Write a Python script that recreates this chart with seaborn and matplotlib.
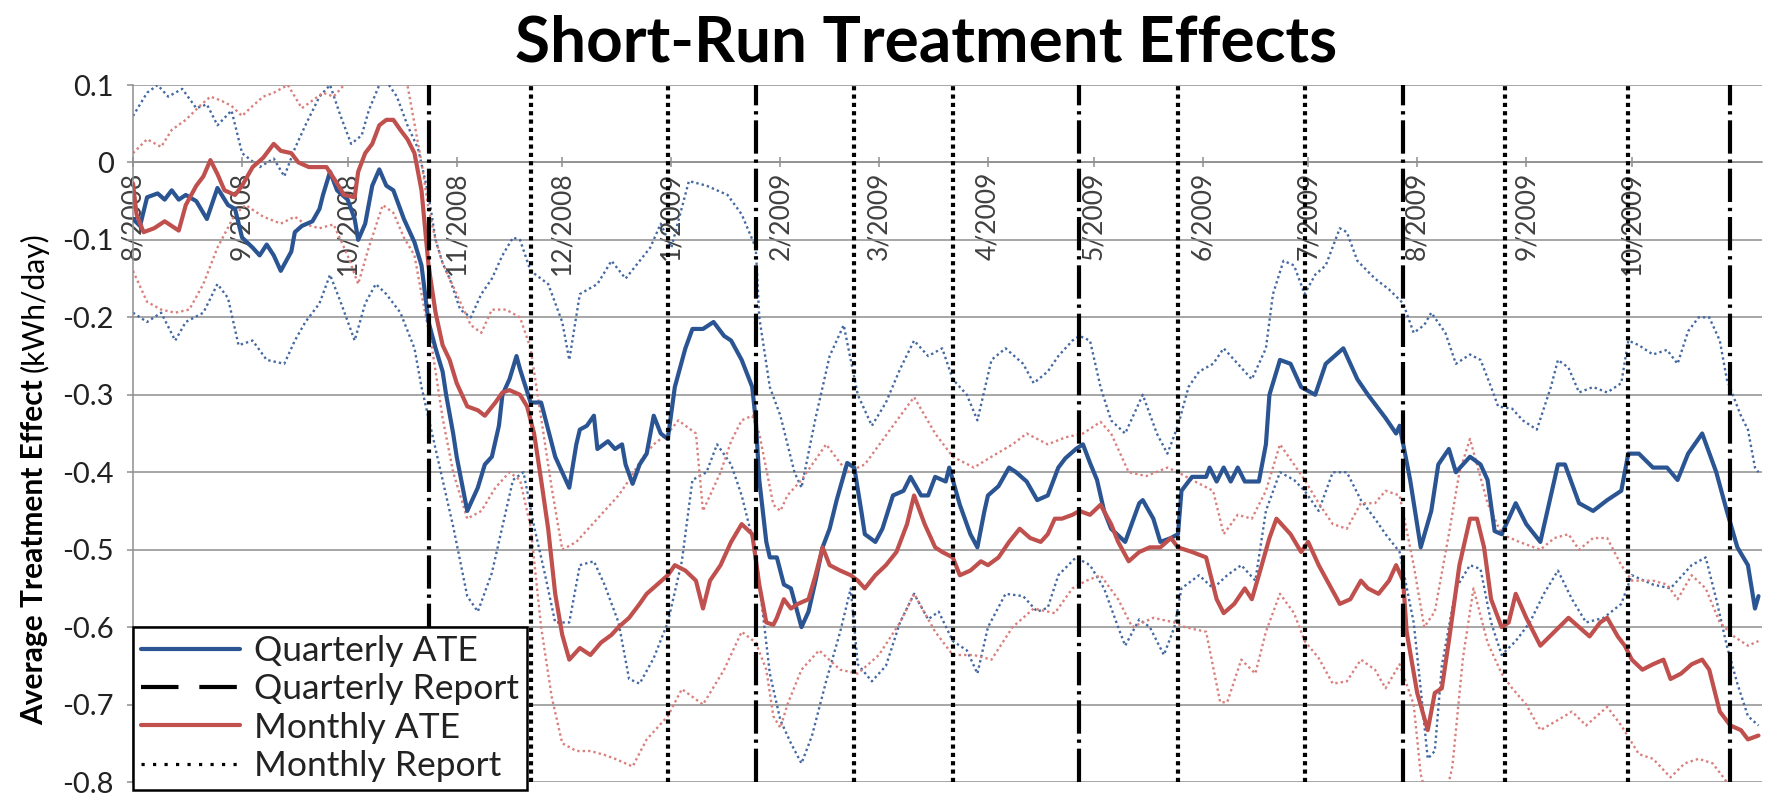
"""
Short-run treatment effects: quarterly vs monthly report ATE with bands.
"""

import pandas as pd
import matplotlib
matplotlib.use("Agg")
import matplotlib.pyplot as plt
from matplotlib.lines import Line2D
import seaborn as sns

sns.set_theme(style="white")
plt.rcParams["font.family"] = ["Lato", "DejaVu Sans"]

START = pd.Timestamp("2008-08-01")   # day 0 of the day offsets below
END_DAY = 463

BLUE, RED = "#2B5592", "#C0504D"
BLUE_DOT, RED_DOT = "#4469A2", "#D9807C"
GRID = "#8E8E8E"

# ── data (day offset from 1 Aug 2008, ATE in kWh/day) ────────────────────────

qate_days = [0, 2, 4, 7, 9, 11, 13, 15, 18, 21, 24, 27, 29, 31, 34, 36, 38, 40, 42, 45,
             46, 48, 51, 53, 54, 56, 58, 61, 63, 64, 66, 68, 70, 72, 74, 77, 80, 82, 84, 86,
             88, 89, 91, 92, 95, 98, 100, 102, 104, 105, 107, 109, 110, 113, 116, 118, 120, 124, 126, 127,
             129, 131, 132, 135, 137, 139, 140, 142, 144, 146, 148, 150, 152, 154, 157, 159, 162, 165, 168, 170,
             173, 176, 177, 178, 180, 181, 183, 185, 187, 190, 192, 194, 196, 198, 200, 203, 205, 207, 208, 211,
             213, 216, 219, 221, 224, 226, 228, 231, 232, 235, 238, 240, 242, 243, 246, 249, 251, 254, 257, 260,
             263, 265, 268, 270, 272, 274, 276, 278, 282, 286, 287, 290, 292, 295, 297, 298, 301, 305, 306, 308,
             310, 312, 314, 316, 320, 322, 323, 326, 329, 332, 336, 339, 344, 348, 351, 356, 359, 360, 363, 366,
             369, 371, 374, 376, 380, 383, 385, 387, 389, 393, 396, 400, 403, 405, 407, 411, 415, 419, 423, 425,
             428, 432, 436, 439, 442, 446, 450, 453, 456, 459, 461, 462]
qate_vals = [-0.073, -0.082, -0.045, -0.040, -0.048, -0.036, -0.048, -0.042, -0.050, -0.073,
             -0.033, -0.055, -0.060, -0.097, -0.110, -0.120, -0.106, -0.120, -0.140, -0.115,
             -0.090, -0.082, -0.076, -0.060, -0.042, -0.012, -0.036, -0.048, -0.073, -0.100,
             -0.079, -0.030, -0.009, -0.030, -0.036, -0.073, -0.103, -0.133, -0.206, -0.240,
             -0.270, -0.300, -0.350, -0.380, -0.450, -0.420, -0.390, -0.380, -0.340, -0.300,
             -0.280, -0.250, -0.267, -0.310, -0.310, -0.345, -0.380, -0.420, -0.364, -0.345,
             -0.340, -0.327, -0.370, -0.360, -0.370, -0.364, -0.390, -0.415, -0.390, -0.376,
             -0.327, -0.350, -0.357, -0.290, -0.240, -0.215, -0.215, -0.206, -0.224, -0.230,
             -0.255, -0.290, -0.333, -0.410, -0.490, -0.510, -0.510, -0.545, -0.550, -0.600,
             -0.580, -0.540, -0.497, -0.473, -0.436, -0.388, -0.394, -0.450, -0.480, -0.490,
             -0.473, -0.430, -0.424, -0.406, -0.430, -0.430, -0.406, -0.412, -0.394, -0.442,
             -0.480, -0.497, -0.450, -0.430, -0.418, -0.394, -0.400, -0.412, -0.436, -0.430,
             -0.394, -0.382, -0.370, -0.364, -0.388, -0.410, -0.450, -0.473, -0.490, -0.440,
             -0.436, -0.460, -0.490, -0.485, -0.480, -0.424, -0.406, -0.406, -0.394, -0.412,
             -0.394, -0.412, -0.394, -0.412, -0.412, -0.364, -0.300, -0.255, -0.260, -0.290,
             -0.300, -0.260, -0.240, -0.280, -0.300, -0.330, -0.350, -0.340, -0.410, -0.497,
             -0.450, -0.390, -0.370, -0.400, -0.380, -0.390, -0.410, -0.476, -0.480, -0.440,
             -0.467, -0.490, -0.430, -0.390, -0.390, -0.440, -0.450, -0.436, -0.424, -0.376,
             -0.376, -0.394, -0.394, -0.410, -0.376, -0.350, -0.400, -0.450, -0.497, -0.520,
             -0.576, -0.560]

mate_days = [0, 1, 3, 6, 9, 11, 13, 15, 18, 20, 22, 24, 26, 29, 31, 34, 37, 40, 42, 45,
             47, 50, 53, 55, 58, 60, 63, 64, 66, 68, 70, 72, 74, 76, 78, 80, 82, 83, 84, 86,
             88, 90, 92, 95, 98, 100, 103, 105, 107, 110, 112, 114, 116, 118, 120, 122, 124, 127, 130, 133,
             136, 138, 141, 144, 146, 149, 152, 154, 157, 160, 162, 164, 167, 170, 173, 176, 178, 180, 182, 183,
             185, 187, 189, 192, 194, 196, 198, 201, 204, 206, 208, 211, 214, 217, 220, 222, 225, 228, 230, 233,
             235, 238, 241, 243, 246, 249, 252, 255, 258, 260, 262, 264, 267, 269, 272, 275, 278, 280, 283, 286,
             289, 292, 295, 297, 301, 305, 308, 310, 313, 316, 318, 320, 323, 325, 329, 332, 334, 337, 340, 343,
             346, 349, 351, 354, 357, 359, 361, 362, 365, 368, 370, 372, 374, 377, 380, 382, 384, 386, 389, 391,
             393, 396, 400, 404, 408, 411, 414, 417, 419, 422, 424, 426, 429, 432, 435, 437, 440, 443, 446, 448,
             451, 454, 457, 459, 462]
mate_vals = [-0.027, -0.067, -0.090, -0.085, -0.076, -0.082, -0.088, -0.055, -0.030, -0.018,
             0.003, -0.015, -0.036, -0.042, -0.030, -0.006, 0.006, 0.024, 0.015, 0.012,
             0.000, -0.006, -0.006, -0.006, -0.027, -0.042, -0.045, -0.012, 0.012, 0.024,
             0.048, 0.055, 0.055, 0.042, 0.030, 0.012, -0.036, -0.085, -0.133, -0.194,
             -0.236, -0.255, -0.285, -0.315, -0.320, -0.327, -0.310, -0.297, -0.294, -0.300,
             -0.315, -0.350, -0.410, -0.473, -0.557, -0.610, -0.642, -0.627, -0.636, -0.620,
             -0.610, -0.600, -0.588, -0.570, -0.557, -0.545, -0.533, -0.520, -0.527, -0.540,
             -0.576, -0.540, -0.520, -0.490, -0.467, -0.480, -0.545, -0.594, -0.597, -0.588,
             -0.564, -0.576, -0.570, -0.564, -0.533, -0.497, -0.520, -0.527, -0.533, -0.540,
             -0.550, -0.533, -0.520, -0.503, -0.467, -0.430, -0.467, -0.497, -0.503, -0.510,
             -0.533, -0.527, -0.515, -0.520, -0.510, -0.490, -0.473, -0.485, -0.490, -0.480,
             -0.460, -0.460, -0.455, -0.450, -0.455, -0.442, -0.467, -0.490, -0.515, -0.503,
             -0.497, -0.497, -0.485, -0.497, -0.503, -0.510, -0.564, -0.582, -0.570, -0.550,
             -0.564, -0.533, -0.485, -0.460, -0.480, -0.503, -0.490, -0.520, -0.545, -0.570,
             -0.564, -0.540, -0.550, -0.557, -0.540, -0.520, -0.540, -0.606, -0.685, -0.733,
             -0.685, -0.679, -0.618, -0.520, -0.460, -0.460, -0.497, -0.564, -0.600, -0.594,
             -0.557, -0.588, -0.624, -0.606, -0.588, -0.600, -0.612, -0.594, -0.588, -0.612,
             -0.624, -0.642, -0.655, -0.648, -0.642, -0.667, -0.660, -0.648, -0.642, -0.655,
             -0.709, -0.727, -0.733, -0.745, -0.740]

# confidence bands (dotted)
qhi_days = [0, 4, 7, 10, 14, 18, 21, 24, 28, 31, 36, 40, 43, 46, 49, 53, 56, 59, 62, 65,
            67, 70, 72, 75, 78, 81, 84, 86, 88, 90, 93, 96, 99, 102, 105, 108, 110, 113, 118, 122,
            124, 127, 132, 136, 140, 147, 150, 153, 158, 163, 169, 173, 177, 178, 181, 184, 188, 190, 194, 198,
            202, 206, 210, 214, 218, 222, 226, 230, 233, 237, 240, 244, 248, 253, 256, 260, 263, 267, 269, 272,
            275, 278, 282, 287, 291, 294, 297, 300, 303, 307, 310, 314, 318, 322, 324, 327, 330, 333, 336, 339,
            343, 345, 348, 353, 357, 361, 364, 367, 369, 373, 376, 380, 383, 386, 388, 392, 395, 399, 403, 405,
            408, 411, 415, 419, 423, 425, 428, 432, 436, 439, 442, 445, 448, 451, 453, 457, 459, 461, 462]
qhi_vals = [0.060, 0.090, 0.100, 0.085, 0.095, 0.070, 0.075, 0.048, 0.067, 0.012,
            -0.006, 0.005, -0.018, 0.018, 0.048, 0.085, 0.100, 0.060, 0.024, 0.035,
            0.067, 0.100, 0.105, 0.085, 0.048, 0.018, -0.042, -0.100, -0.130, -0.150,
            -0.190, -0.200, -0.170, -0.150, -0.120, -0.097, -0.100, -0.140, -0.157, -0.206,
            -0.255, -0.170, -0.157, -0.127, -0.150, -0.110, -0.079, -0.110, -0.024, -0.030,
            -0.042, -0.067, -0.110, -0.200, -0.290, -0.327, -0.400, -0.420, -0.330, -0.250,
            -0.210, -0.300, -0.340, -0.310, -0.267, -0.230, -0.250, -0.240, -0.280, -0.300,
            -0.333, -0.255, -0.240, -0.260, -0.285, -0.270, -0.250, -0.230, -0.224, -0.230,
            -0.290, -0.333, -0.350, -0.300, -0.350, -0.376, -0.340, -0.290, -0.270, -0.260,
            -0.240, -0.260, -0.280, -0.240, -0.170, -0.127, -0.133, -0.170, -0.145, -0.133,
            -0.085, -0.090, -0.127, -0.150, -0.164, -0.182, -0.220, -0.210, -0.194, -0.220,
            -0.260, -0.248, -0.255, -0.290, -0.315, -0.318, -0.333, -0.345, -0.290, -0.255,
            -0.265, -0.297, -0.290, -0.297, -0.285, -0.230, -0.236, -0.248, -0.242, -0.260,
            -0.218, -0.200, -0.200, -0.230, -0.280, -0.327, -0.345, -0.394, -0.400]

qlo_days = [0, 4, 8, 12, 15, 20, 24, 27, 30, 34, 38, 43, 46, 49, 53, 56, 59, 63, 66, 69,
            72, 76, 80, 82, 85, 88, 91, 95, 98, 102, 105, 108, 111, 114, 117, 120, 124, 127, 131, 134,
            138, 141, 144, 148, 152, 156, 159, 163, 166, 170, 173, 177, 181, 184, 187, 190, 193, 197, 201, 204,
            206, 210, 214, 218, 222, 226, 229, 233, 237, 240, 243, 248, 253, 257, 260, 263, 268, 272, 276, 280,
            282, 286, 289, 293, 296, 298, 303, 307, 311, 315, 319, 322, 326, 330, 333, 337, 341, 345, 349, 353,
            356, 360, 364, 366, 368, 370, 372, 376, 380, 383, 386, 389, 393, 397, 401, 405, 409, 413, 418, 423,
            426, 432, 437, 443, 447, 450, 453, 456, 459, 462]
qlo_vals = [-0.194, -0.206, -0.194, -0.230, -0.206, -0.194, -0.157, -0.175, -0.236, -0.230,
            -0.255, -0.260, -0.230, -0.206, -0.182, -0.145, -0.180, -0.230, -0.182, -0.157,
            -0.170, -0.194, -0.240, -0.290, -0.350, -0.410, -0.470, -0.560, -0.580, -0.530,
            -0.470, -0.410, -0.400, -0.470, -0.530, -0.594, -0.594, -0.520, -0.515, -0.545,
            -0.594, -0.667, -0.673, -0.640, -0.594, -0.515, -0.410, -0.400, -0.364, -0.390,
            -0.430, -0.503, -0.660, -0.720, -0.750, -0.776, -0.740, -0.670, -0.606, -0.550,
            -0.648, -0.670, -0.650, -0.594, -0.557, -0.590, -0.580, -0.618, -0.630, -0.660,
            -0.600, -0.557, -0.560, -0.580, -0.575, -0.533, -0.510, -0.520, -0.550, -0.600,
            -0.624, -0.590, -0.600, -0.636, -0.600, -0.550, -0.533, -0.550, -0.533, -0.520,
            -0.540, -0.450, -0.400, -0.410, -0.424, -0.450, -0.400, -0.400, -0.436, -0.460,
            -0.480, -0.503, -0.594, -0.680, -0.770, -0.760, -0.650, -0.550, -0.520, -0.525,
            -0.594, -0.636, -0.618, -0.594, -0.557, -0.527, -0.564, -0.594, -0.588, -0.570,
            -0.533, -0.545, -0.550, -0.520, -0.510, -0.564, -0.624, -0.673, -0.715, -0.727]

mhi_days = [0, 4, 8, 11, 15, 19, 22, 25, 28, 31, 34, 37, 40, 44, 48, 51, 54, 57, 60, 63,
            67, 71, 75, 78, 80, 82, 84, 86, 88, 90, 93, 96, 99, 102, 106, 110, 113, 116, 119, 122,
            126, 130, 134, 138, 141, 145, 148, 152, 155, 160, 162, 165, 167, 170, 173, 176, 178, 182, 184, 186,
            190, 197, 203, 208, 216, 222, 228, 233, 239, 244, 250, 254, 260, 265, 270, 275, 278, 283, 288, 294,
            297, 301, 307, 310, 314, 318, 322, 326, 330, 333, 337, 341, 345, 349, 353, 356, 360, 364, 367, 370,
            374, 377, 380, 385, 389, 394, 400, 404, 408, 411, 415, 419, 423, 426, 432, 436, 439, 443, 447, 451,
            455, 459, 462]
mhi_vals = [0.012, 0.030, 0.020, 0.042, 0.055, 0.073, 0.085, 0.080, 0.073, 0.060,
            0.073, 0.085, 0.090, 0.100, 0.070, 0.080, 0.090, 0.085, 0.100, 0.120,
            0.130, 0.140, 0.130, 0.100, 0.050, 0.000, -0.060, -0.100, -0.130, -0.150,
            -0.180, -0.210, -0.220, -0.190, -0.190, -0.200, -0.240, -0.330, -0.420, -0.500,
            -0.490, -0.470, -0.450, -0.430, -0.410, -0.380, -0.364, -0.350, -0.333, -0.350,
            -0.450, -0.420, -0.400, -0.360, -0.333, -0.327, -0.350, -0.442, -0.450, -0.430,
            -0.410, -0.364, -0.400, -0.390, -0.340, -0.303, -0.350, -0.380, -0.394, -0.380,
            -0.364, -0.350, -0.364, -0.355, -0.350, -0.335, -0.350, -0.400, -0.405, -0.394,
            -0.400, -0.410, -0.424, -0.480, -0.455, -0.460, -0.424, -0.364, -0.390, -0.410,
            -0.440, -0.467, -0.473, -0.440, -0.440, -0.424, -0.430, -0.520, -0.600, -0.580,
            -0.480, -0.400, -0.357, -0.440, -0.480, -0.490, -0.500, -0.485, -0.480, -0.500,
            -0.485, -0.485, -0.520, -0.540, -0.540, -0.545, -0.564, -0.533, -0.550, -0.594,
            -0.612, -0.624, -0.618]

mlo_days = [0, 4, 8, 12, 16, 20, 24, 29, 32, 37, 42, 46, 49, 53, 57, 61, 64, 67, 71, 74,
            77, 80, 82, 85, 88, 91, 95, 99, 103, 107, 110, 113, 116, 119, 122, 126, 130, 134, 137, 142,
            146, 152, 156, 162, 168, 173, 177, 180, 182, 184, 186, 190, 195, 201, 206, 212, 218, 222, 228, 233,
            239, 244, 250, 256, 262, 267, 271, 275, 280, 284, 290, 296, 299, 305, 309, 311, 315, 319, 322, 326,
            330, 333, 337, 341, 345, 349, 353, 356, 360, 364, 366, 369, 372, 375, 378, 381, 385, 389, 392, 396,
            400, 405, 409, 413, 419, 423, 428, 432, 437, 441, 445, 449, 453, 457, 460, 462]
mlo_vals = [-0.140, -0.180, -0.190, -0.194, -0.190, -0.157, -0.110, -0.067, -0.055, -0.070,
            -0.079, -0.070, -0.080, -0.085, -0.080, -0.120, -0.157, -0.110, -0.055, -0.065,
            -0.097, -0.120, -0.170, -0.240, -0.330, -0.400, -0.460, -0.450, -0.420, -0.400,
            -0.410, -0.470, -0.600, -0.690, -0.750, -0.760, -0.760, -0.765, -0.770, -0.780,
            -0.745, -0.715, -0.680, -0.700, -0.655, -0.606, -0.620, -0.655, -0.715, -0.730,
            -0.700, -0.655, -0.630, -0.655, -0.660, -0.636, -0.594, -0.557, -0.606, -0.636,
            -0.636, -0.642, -0.600, -0.576, -0.582, -0.550, -0.540, -0.533, -0.564, -0.600,
            -0.588, -0.594, -0.600, -0.606, -0.697, -0.697, -0.642, -0.660, -0.606, -0.557,
            -0.582, -0.618, -0.640, -0.673, -0.670, -0.642, -0.655, -0.679, -0.648, -0.700,
            -0.790, -0.840, -0.840, -0.780, -0.640, -0.550, -0.620, -0.660, -0.679, -0.700,
            -0.733, -0.720, -0.709, -0.727, -0.703, -0.727, -0.764, -0.770, -0.794, -0.776,
            -0.770, -0.776, -0.800, -0.830, -0.840, -0.840]

# report dates (vertical markers)
quarterly_reports = ["2008-10-24", "2009-01-25", "2009-04-27", "2009-07-28", "2009-10-29"]
monthly_reports = ["2008-11-22", "2008-12-31", "2009-02-22", "2009-03-22",
                   "2009-05-25", "2009-06-30", "2009-08-26", "2009-09-30"]

month_ticks = pd.date_range("2008-08-01", "2009-10-01", freq="MS")
month_labels = ["8/2008", "9/2008", "10/2008", "11/2008", "12/2008", "1/2009", "2/2009",
                "3/2009", "4/2009", "5/2009", "6/2009", "7/2009", "8/2009", "9/2009", "10/2009"]

y_ticks = [0.1, 0.0, -0.1, -0.2, -0.3, -0.4, -0.5, -0.6, -0.7, -0.8]
y_labels = ["0.1", "0", "-0.1", "-0.2", "-0.3", "-0.4", "-0.5", "-0.6", "-0.7", "-0.8"]


def to_dates(days):
    return START + pd.to_timedelta(days, unit="D")


fig = plt.figure(figsize=(17.77, 7.94), dpi=100)
ax = fig.add_axes([133 / 1777, 12 / 794, 1629 / 1777, 697 / 794])

# bands first, solid estimates on top
band_style = dict(lw=1.7, linestyle=(0, (1, 1.3)), legend=False, estimator=None, ax=ax)
sns.lineplot(x=to_dates(qhi_days), y=qhi_vals, color=BLUE_DOT, **band_style)
sns.lineplot(x=to_dates(qlo_days), y=qlo_vals, color=BLUE_DOT, **band_style)
sns.lineplot(x=to_dates(mhi_days), y=mhi_vals, color=RED_DOT, **band_style)
sns.lineplot(x=to_dates(mlo_days), y=mlo_vals, color=RED_DOT, **band_style)

sns.lineplot(x=to_dates(qate_days), y=qate_vals, color=BLUE, lw=3, legend=False,
             estimator=None, ax=ax, zorder=4)
sns.lineplot(x=to_dates(mate_days), y=mate_vals, color=RED, lw=3, legend=False,
             estimator=None, ax=ax, zorder=4)

for d in quarterly_reports:
    ax.axvline(pd.Timestamp(d), color="black", lw=3, linestyle=(0, (8, 1.4, 0.8, 1.4)), zorder=5)
for d in monthly_reports:
    ax.axvline(pd.Timestamp(d), color="black", lw=3, linestyle=(0, (1, 1)), zorder=5)

# axes cosmetics (Excel-like: x axis crosses at 0)
for side in ("top", "right"):
    ax.spines[side].set_visible(False)
ax.spines["bottom"].set_position(("data", 0))   # resets ticks, so do it first
for side in ("left", "bottom"):
    ax.spines[side].set_color(GRID)
    ax.spines[side].set_linewidth(1.1)

ax.set_xlim(START, to_dates([END_DAY])[0])
ax.set_ylim(-0.8, 0.1)
ax.set_yticks(y_ticks)
ax.set_yticklabels(y_labels)
ax.set_xticks(month_ticks)
ax.set_xticklabels(month_labels)
ax.yaxis.grid(True, color=GRID, lw=1.1)
ax.xaxis.grid(False)
ax.set_axisbelow(True)
ax.tick_params(axis="y", left=True, direction="out", length=4, width=1.1, color=GRID,
               labelsize=21, pad=10, labelcolor="#222222")
ax.tick_params(axis="x", bottom=True, direction="inout", length=7, width=1.1, color=GRID,
               pad=3, labelrotation=90, labelsize=19, labelcolor="#404040")
ax.set_xlabel("")
ax.set_ylabel("")

handles = [
    Line2D([], [], color=BLUE, lw=3),
    Line2D([], [], color="black", lw=3, linestyle=(0, (9, 5))),
    Line2D([], [], color=RED, lw=3),
    Line2D([], [], color="black", lw=2.3, linestyle=(0, (1, 2.6))),
]
labels = ["Quarterly ATE", "Quarterly Report", "Monthly ATE", "Monthly Report"]
leg = ax.legend(handles, labels, loc="lower left", bbox_to_anchor=(0, -0.0115),
                borderaxespad=0, fontsize=25.5, handlelength=2.8, handletextpad=0.4,
                labelspacing=0.18, borderpad=0.22, fancybox=False, framealpha=1,
                edgecolor="black", labelcolor="#222222")
leg.get_frame().set_linewidth(1.8)
leg.set_zorder(10)

fig.text(0.521, 0.946, "Short-Run Treatment Effects", ha="center", va="center",
         fontsize=46, fontweight="bold", color="black")

# y label: bold part + regular unit part stacked along the rotated axis
t1 = fig.text(0.019, 1 - 725 / 794, "Average Treatment Effect ", rotation=90,
              ha="center", va="bottom", fontsize=21.5, fontweight="bold", color="black")
fig.canvas.draw()
bb = t1.get_window_extent()
fig.text(0.019, bb.y1 / fig.bbox.height, "(kWh/day)", rotation=90,
         ha="center", va="bottom", fontsize=21.5, color="black")

fig.savefig("out.png", dpi=100)
